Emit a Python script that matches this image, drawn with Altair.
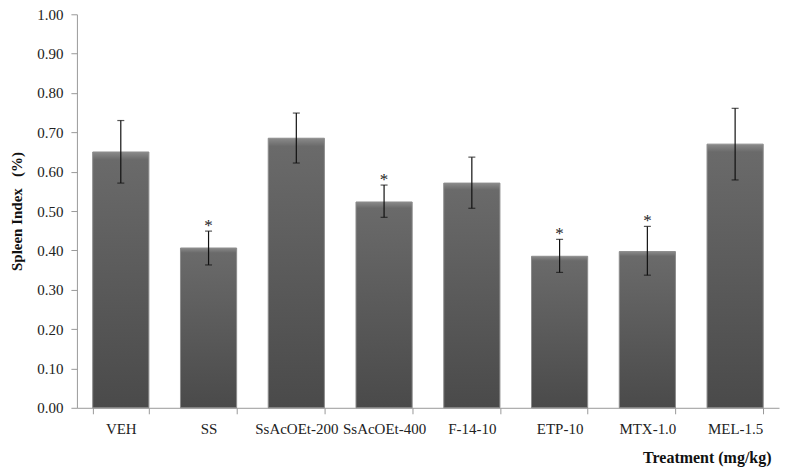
import altair as alt
import pandas as pd

categories = ["VEH", "SS", "SsAcOEt-200", "SsAcOEt-400", "F-14-10", "ETP-10", "MTX-1.0", "MEL-1.5"]
means = [0.650, 0.406, 0.685, 0.523, 0.571, 0.385, 0.397, 0.670]
err_high = [0.730, 0.449, 0.749, 0.566, 0.637, 0.428, 0.461, 0.761]
err_low = [0.571, 0.363, 0.622, 0.484, 0.507, 0.344, 0.337, 0.579]
stars = ["", "*", "", "*", "", "*", "*", ""]
y_ticks = [0.0, 0.1, 0.2, 0.3, 0.4, 0.5, 0.6, 0.7, 0.8, 0.9, 1.0]

df = pd.DataFrame({
    "cat": categories, "mean": means, "hi": err_high, "lo": err_low, "star": stars
})

FONT = "Liberation Serif"
YTITLE = "Spleen Index\u00a0\u00a0\u00a0(%)"

xaxis = alt.Axis(title="Treatment (mg/kg)", labelAngle=0, labelFont=FONT,
                 labelFontSize=15, labelColor="#222", labelPadding=8,
                 tickBand="extent", tickSize=6, tickColor="#999",
                 domainColor="#999", titleFont=FONT, titleFontSize=16,
                 titleFontWeight="bold", titleColor="#111",
                 titleAnchor="end", titleAlign="right",
                 titleX=695, titleY=50, titleBaseline="middle")

yaxis = alt.Axis(title=YTITLE, values=y_ticks, tickCount=11,
                 format=".2f", grid=False, labelFont=FONT, labelFontSize=15,
                 labelColor="#222", labelPadding=8, tickSize=6, labelOverlap=False,
                 tickColor="#999", domainColor="#999",
                 titleFont=FONT, titleFontSize=15, titleFontWeight="bold",
                 titleColor="#111", titlePadding=12)

xenc = alt.X("cat:N", sort=categories,
             scale=alt.Scale(paddingInner=0.36, paddingOuter=0.18), axis=xaxis)

bars = alt.Chart(df).mark_bar(
    color=alt.Gradient(gradient="linear",
                       stops=[alt.GradientStop(color="#8a8a8a", offset=0),
                              alt.GradientStop(color="#6a6a6a", offset=0.03),
                              alt.GradientStop(color="#4a4a4a", offset=1)],
                       x1=0, x2=0, y1=0, y2=1),
    stroke="#8c8c8c", strokeWidth=1
).encode(
    x=xenc,
    y=alt.Y("mean:Q", scale=alt.Scale(domain=[0, 1]), axis=yaxis)
)

errs = alt.Chart(df).mark_errorbar(ticks=alt.MarkConfig(size=7, color="#111", strokeWidth=1.2),
                                   color="#111", thickness=1.2).encode(
    x=xenc,
    y=alt.Y("lo:Q", axis=yaxis),
    y2="hi:Q"
)

txt = alt.Chart(df).mark_text(font=FONT, fontSize=17, baseline="middle", dy=-5,
                              color="#222").encode(
    x=xenc,
    y=alt.Y("hi:Q", axis=yaxis),
    text="star:N"
)

chart = (bars + errs + txt).properties(
    width=703, height=394,
    autosize=alt.AutoSizeParams(type="none"),
    padding={"left": 69, "top": 6, "right": 5, "bottom": 62}
).configure_view(stroke=None)

chart.save("out.html", embed_options={"renderer": "svg", "actions": False})
